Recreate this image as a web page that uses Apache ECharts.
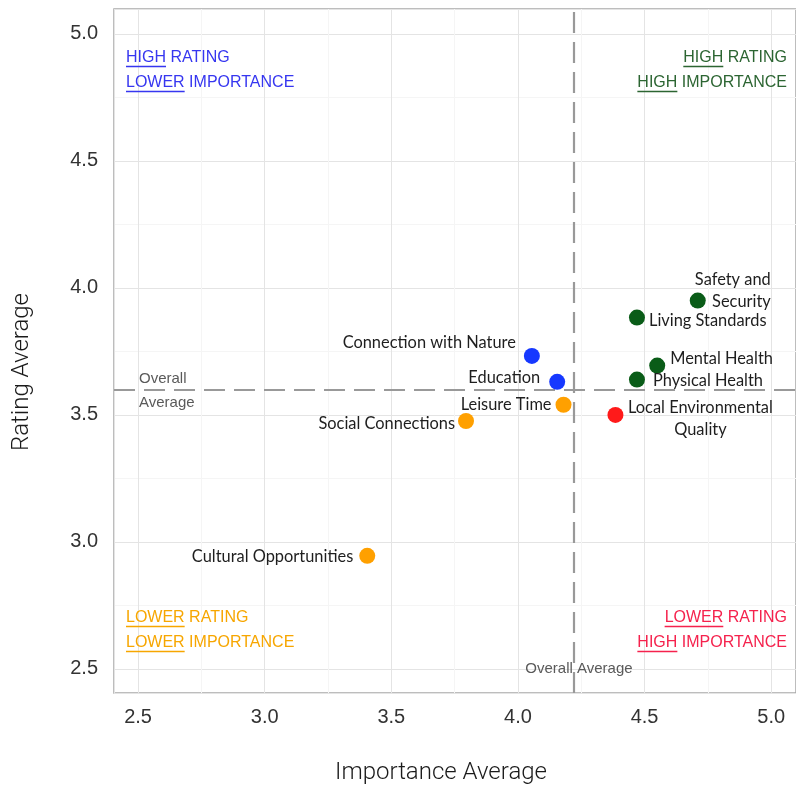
<!DOCTYPE html>
<html>
<head>
<meta charset="utf-8">
<script src="https://cdn.jsdelivr.net/npm/echarts@6/dist/echarts.min.js"></script>
<style>
html,body{margin:0;padding:0;background:#fff;}
#chart{width:796px;height:786px;}
</style>
</head>
<body>
<div id="chart"></div>
<script>
// ---- data ----
const names = ['Safety and Security','Living Standards','Mental Health','Physical Health','Local Environmental Quality','Connection with Nature','Education','Leisure Time','Social Connections','Cultural Opportunities'];
const importance = [4.71, 4.47, 4.55, 4.47, 4.385, 4.055, 4.155, 4.18, 3.795, 3.405];
const rating = [3.95, 3.883, 3.694, 3.639, 3.50, 3.732, 3.630, 3.540, 3.476, 2.945];
const quadrant = ['HH','HH','HH','HH','LH','HL','HL','LL','LL','LL'];
const overallImportance = 4.219;
const overallRating = 3.598;
const xTickLabels = ['2.5','3.0','3.5','4.0','4.5','5.0'];
const yTickLabels = ['2.5','3.0','3.5','4.0','4.5','5.0'];

// ---- styles ----
const quadColor = {HH:'#0a5c18', LH:'#ff1a1a', HL:'#1638ff', LL:'#ffa000'};
const labelStyle = {
  'Safety and Security': {text:'Safety and\nSecurity', dx:73, dy:-10, align:'right'},
  'Living Standards': {dx:12, dy:3, align:'left'},
  'Mental Health': {dx:13, dy:-7, align:'left'},
  'Physical Health': {dx:16, dy:1, align:'left'},
  'Local Environmental Quality': {text:'Local Environmental\nQuality', dx:85, dy:4, align:'center'},
  'Connection with Nature': {dx:-16, dy:-13, align:'right'},
  'Education': {dx:-17, dy:-4, align:'right'},
  'Leisure Time': {dx:-12, dy:0, align:'right'},
  'Social Connections': {dx:-11, dy:3, align:'right'},
  'Cultural Opportunities': {dx:-14, dy:1, align:'right'}
};
const SYM = 16;

const data = names.map((n, i) => {
  const ls = labelStyle[n];
  return {
    name: n,
    value: [importance[i], rating[i]],
    itemStyle: {color: quadColor[quadrant[i]], opacity: 1},
    label: {
      show: true,
      formatter: ls.text || n,
      position: [SYM/2 + ls.dx, SYM/2 + ls.dy],
      align: ls.align,
      verticalAlign: 'middle',
      fontFamily: 'Lato',
      fontSize: 16.4,
      lineHeight: 22,
      color: '#1e1e1e'
    }
  };
});

const inTicks = (labels) => (v) => {
  const s = v.toFixed(1);
  return (Math.abs(v * 2 - Math.round(v * 2)) < 1e-6 && labels.includes(s)) ? s : '';
};

const chart = echarts.init(document.getElementById('chart'), null, {renderer: 'canvas'});

const axisCommon = {
  type: 'value',
  min: 2.405,
  max: 5.098,
  splitNumber: 5,
  axisLine: {show: false},
  axisTick: {show: false},
  splitLine: {show: true, lineStyle: {color: '#e4e4e4', width: 1}},
  minorTick: {show: false, splitNumber: 2},
  minorSplitLine: {show: true, lineStyle: {color: '#f5f5f5', width: 1}}
};

// measure text for underlines
const cv = document.createElement('canvas').getContext('2d');
function tw(t, font) { cv.font = font; return cv.measureText(t).width; }
const qFont = '16px "Liberation Sans"';
function quadText(x, y, under, rest, color, alignRight) {
  const w1 = tw(under, qFont);
  const wAll = tw(under + rest, qFont);
  const x0 = alignRight ? x - wAll : x;
  return [
    {type:'text', z: 100, x: x0, y: y, style:{text: under + rest, fill: color, font: qFont, textVerticalAlign:'middle', textAlign:'left'}},
    {type:'line', z: 100, shape:{x1: x0, y1: y + 8.5, x2: x0 + w1, y2: y + 8.5}, style:{stroke: color, lineWidth: 1.3}}
  ];
}
const blue = '#3636f0', green = '#2c6532', orange = '#f7a600', red = '#f5224d';
const nameFont = '300 24px Roboto';
const avgFont = '15px "Liberation Sans"';
const graphics = [].concat(
  quadText(126, 58, 'HIGH', ' RATING', blue, false),
  quadText(126, 83, 'LOWER', ' IMPORTANCE', blue, false),
  quadText(787, 58, 'HIGH', ' RATING', green, true),
  quadText(787, 83, 'HIGH', ' IMPORTANCE', green, true),
  quadText(126, 618, 'LOWER', ' RATING', orange, false),
  quadText(126, 643, 'LOWER', ' IMPORTANCE', orange, false),
  quadText(787, 618, 'LOWER', ' RATING', red, true),
  quadText(787, 643, 'HIGH', ' IMPORTANCE', red, true),
  [
    {type:'text', z: 100, x:139, y:379, style:{text:'Overall', fill:'#5a5a5a', font: avgFont, textVerticalAlign:'middle'}},
    {type:'text', z: 100, x:139, y:403, style:{text:'Average', fill:'#5a5a5a', font: avgFont, textVerticalAlign:'middle'}},
    {type:'text', z: 100, x:579, y:669, style:{text:'Overall Average', fill:'#5a5a5a', font: avgFont, textVerticalAlign:'middle', textAlign:'center'}},
    {type:'text', z: 100, x:441, y:773, style:{text:'Importance Average', fill:'#1a1a1a', font: nameFont, textVerticalAlign:'middle', textAlign:'center'}},
    {type:'text', z: 100, x:22, y:372, rotation: Math.PI/2, style:{text:'Rating Average', fill:'#1a1a1a', font: nameFont, textVerticalAlign:'middle', textAlign:'center'}}
  ]
);

chart.setOption({
  animation: false,
  backgroundColor: '#fff',
  grid: {left: 114, top: 9, right: -2, bottom: 93, show: true, borderColor: '#a8a8a8', borderWidth: 1.5, containLabel: false},
  xAxis: Object.assign({}, axisCommon, {
    axisLabel: {formatter: inTicks(xTickLabels), fontFamily: 'Liberation Sans', fontSize: 20, color: '#333', margin: 14, showMinLabel: false, showMaxLabel: false}
  }),
  yAxis: Object.assign({}, axisCommon, {
    axisLabel: {formatter: inTicks(yTickLabels), fontFamily: 'Liberation Sans', fontSize: 20, color: '#333', margin: 16, showMinLabel: false, showMaxLabel: false}
  }),
  series: [{
    type: 'scatter',
    symbolSize: SYM,
    data: data,
    z: 5,
    markLine: {
      silent: true,
      symbol: ['none','none'],
      label: {show: false},
      lineStyle: {color: '#999999', type: [21, 9], width: 2.2, opacity: 1},
      data: [{xAxis: overallImportance}, {yAxis: overallRating}]
    }
  }],
  graphic: graphics
});
</script>
</body>
</html>
